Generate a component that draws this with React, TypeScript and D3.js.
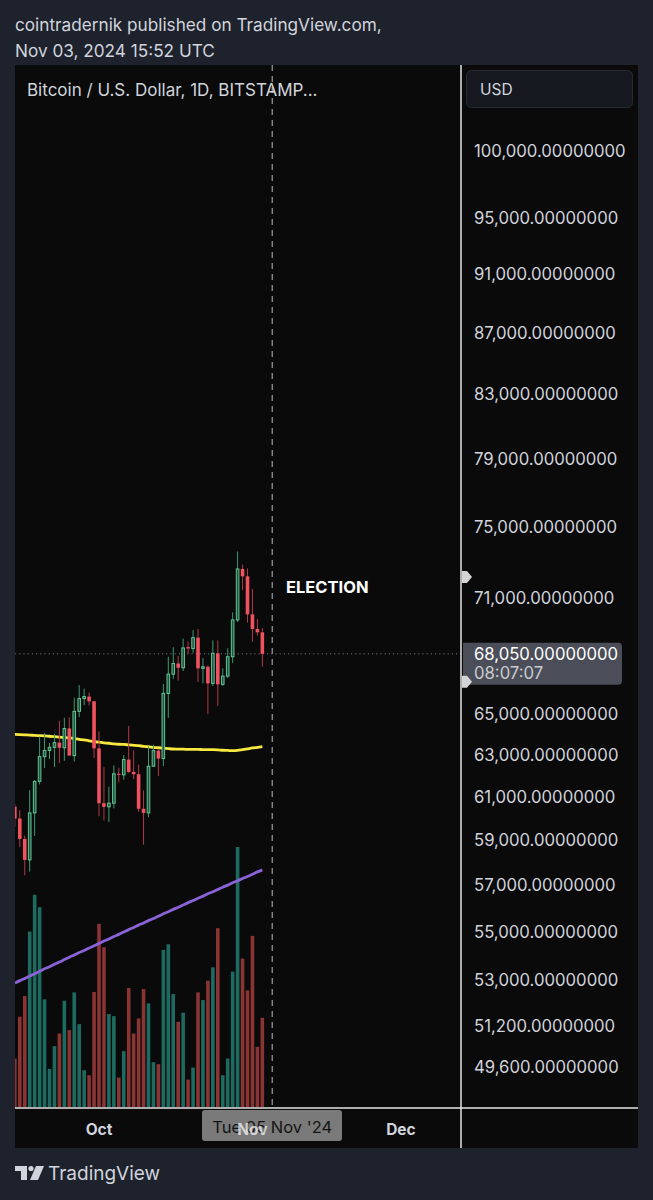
import React from "react";
import * as d3 from "d3";

// ---- data ----
const dates = [
  "2024-09-14","2024-09-15","2024-09-16","2024-09-17","2024-09-18","2024-09-19","2024-09-20","2024-09-21","2024-09-22","2024-09-23",
  "2024-09-24","2024-09-25","2024-09-26","2024-09-27","2024-09-28","2024-09-29","2024-09-30","2024-10-01","2024-10-02","2024-10-03",
  "2024-10-04","2024-10-05","2024-10-06","2024-10-07","2024-10-08","2024-10-09","2024-10-10","2024-10-11","2024-10-12","2024-10-13",
  "2024-10-14","2024-10-15","2024-10-16","2024-10-17","2024-10-18","2024-10-19","2024-10-20","2024-10-21","2024-10-22","2024-10-23",
  "2024-10-24","2024-10-25","2024-10-26","2024-10-27","2024-10-28","2024-10-29","2024-10-30","2024-10-31","2024-11-01","2024-11-02",
  "2024-11-03",
];
const opens = [
  60540,59990,59060,58120,60250,61720,62900,63200,63350,63580,
  63330,64270,62950,65120,65760,65860,65620,63300,60700,60530,
  60700,62080,62030,62760,62170,62060,60440,60250,62440,63190,
  62810,66020,67000,67550,67330,68400,68330,68900,67300,67380,
  66530,68080,66480,66900,67900,69840,72620,72210,70140,69360,
  69180,
];
const highs = [
  60660,60380,59210,61310,61780,63880,64050,63560,64000,64650,
  64800,64820,65800,66440,66260,66070,65640,64130,62400,61470,
  62480,62370,62980,64400,63200,62520,61300,63400,63480,63280,
  66500,67900,68400,67940,68850,68700,69300,69360,67830,67450,
  68760,68750,67300,68340,70250,73600,72870,72650,71520,69900,
  69400,
];
const lows = [
  59600,58700,57440,57600,59200,61580,62350,62780,62400,62600,
  62700,62990,62670,64830,65430,65420,62830,60100,59900,59830,
  60460,61680,61800,62120,61830,60300,58800,60050,62440,61980,
  62450,64800,66750,66670,67160,68050,68100,66600,66530,64980,
  66400,65390,66400,66800,67570,69730,71450,69700,68680,69000,
  67380,
];
const closes = [
  59990,59060,58120,60250,61720,62900,63200,63350,63580,63330,
  64270,62950,65120,65760,65860,65620,63300,60700,60530,60700,
  62080,62030,62760,62170,62060,60440,60250,62440,63190,62810,
  66020,67000,67550,67330,68360,68330,68900,67300,67380,66530,
  68080,66480,66900,67900,69840,72620,72210,70140,69360,69180,
  68050,
];
const volumes = [
  928,1728,2125,3360,4064,3827,2061,730,1165,1408,
  2035,1472,2195,1587,704,608,2202,3507,3059,1779,
  1741,563,1069,2278,1408,1696,2259,1984,858,819,
  3008,3117,2163,1632,1805,525,755,2195,2048,2419,
  2675,3424,608,928,2592,4979,2842,2234,3277,1152,
  1709,
];
const maYellow = [
  63980,63970,63960,63950,63930,63920,63910,63890,63870,63850,
  63830,63810,63780,63740,63710,63670,63630,63600,63570,63550,
  63520,63500,63490,63470,63450,63430,63400,63380,63350,63330,
  63310,63290,63270,63260,63260,63250,63250,63250,63240,63240,
  63240,63230,63210,63200,63190,63200,63240,63280,63320,63350,
  63390,
];
const maPurple = [
  52890,52990,53080,53180,53270,53370,53470,53560,53660,53750,
  53850,53950,54040,54140,54230,54330,54420,54520,54620,54710,
  54810,54900,55000,55100,55190,55290,55380,55480,55570,55670,
  55770,55860,55960,56050,56150,56250,56340,56440,56530,56630,
  56720,56820,56920,57010,57110,57200,57300,57390,57490,57590,
  57680,
];
const priceTicks = [100000,95000,91000,87000,83000,79000,75000,71000,65000,63000,61000,59000,57000,55000,53000,51200,49600];
const monthTicks = [
  { date: "2024-10-01", label: "Oct" },
  { date: "2024-12-01", label: "Dec" },
];
const novTick = { date: "2024-11-01", label: "Nov" };
const lastPrice = 68050;
const countdown = "08:07:07";
const electionDate = "2024-11-05";
const electionLabel = "ELECTION";
const crosshairLabel = "Tue 05 Nov '24";
const alertPrices = [72170];

const W = 653, H = 1200;
const FONT = "Inter, 'Noto Sans', sans-serif";

export default function App() {
  const parse = (s: string) => new Date(s + "T00:00:00Z");
  const x = d3.scaleUtc().domain([parse("2024-09-14"), parse("2024-12-01")]).range([14.85, 400.95]);
  const y = d3.scaleLog().domain([49600, 100000]).range([1067, 151]);
  const yv = d3.scaleLinear().domain([0, d3.max(volumes) as number]).range([1107, 847]);
  const fmt = d3.format(",.8f");

  const plotL = 15, plotR = 461, plotT = 65, plotB = 1108;
  const bw = 3.6;

  const lineY = d3.line<number>().x((_, i) => x(parse(dates[i]))).y((v) => y(v)).curve(d3.curveMonotoneX);

  const electionX = x(parse(electionDate));
  const lp = y(lastPrice);

  return (
    <svg width={W} height={H} style={{ position: "absolute", left: 0, top: 0, display: "block" }} fontFamily={FONT}>
      <rect x={0} y={0} width={W} height={H} fill="#1e222d" />
      <text x={15} y={31} fontSize={17.2} fill="#d1d4dc">cointradernik published on TradingView.com,</text>
      <text x={15} y={57} fontSize={17.2} fill="#d1d4dc">Nov 03, 2024 15:52 UTC</text>

      {/* chart panel */}
      <rect x={15} y={65} width={623} height={1083} fill="#0a0a0a" />
      <defs>
        <clipPath id="plotclip">
          <rect x={plotL} y={plotT} width={plotR - plotL} height={plotB - plotT} />
        </clipPath>
      </defs>

      <g clipPath="url(#plotclip)">
        {/* volume */}
        {volumes.map((v, i) => {
          const up = closes[i] >= opens[i];
          const cx = x(parse(dates[i]));
          return (
            <rect key={"v" + i} x={cx - bw / 2} y={yv(v)} width={bw} height={yv(0) - yv(v)} fill={up ? "#1d6b60" : "#8a3434"} />
          );
        })}
        {/* purple MA */}
        <path d={lineY(maPurple) || ""} fill="none" stroke="#8b63d8" strokeWidth={2.8} />
        {/* yellow MA */}
        <path d={lineY(maYellow) || ""} fill="none" stroke="#f7e940" strokeWidth={2.8} />
        {/* last price dotted line */}
        <line x1={plotL} x2={plotR} y1={lp} y2={lp} stroke="#70737e" strokeWidth={1} strokeDasharray="1.2,3" />
        {/* candles */}
        {dates.map((d, i) => {
          const cx = x(parse(d));
          const up = closes[i] >= opens[i];
          const top = y(Math.max(opens[i], closes[i]));
          const bot = y(Math.min(opens[i], closes[i]));
          return (
            <g key={"c" + i}>
              <line x1={cx} x2={cx} y1={y(highs[i])} y2={y(lows[i])} stroke={up ? "#3d9970" : "#b03a48"} strokeWidth={1} />
              <rect
                x={cx - bw / 2 + (up ? 0.5 : 0)}
                y={top}
                width={bw - (up ? 1 : 0)}
                height={Math.max(1, bot - top)}
                fill={up ? "#23533f" : "#f0525f"}
                stroke={up ? "#62c493" : "none"}
                strokeWidth={up ? 1 : 0}
              />
            </g>
          );
        })}
        {/* election dashed line */}
        <line x1={electionX} x2={electionX} y1={plotT} y2={plotB} stroke="#8f929a" strokeWidth={1.3} strokeDasharray="6,5" />
      </g>

      <text x={286} y={587} fontSize={16.5} fontWeight={700} fill="#ffffff" dominantBaseline="central">{electionLabel}</text>
      <text x={27} y={90} fontSize={17} fill="#d1d4dc" dominantBaseline="central">Bitcoin / U.S. Dollar, 1D, BITSTAMP...</text>

      {/* separators */}
      <line x1={461} x2={461} y1={65} y2={1148} stroke="#e6e6e6" strokeWidth={1.5} />
      <line x1={15} x2={638} y1={1108} y2={1108} stroke="#e6e6e6" strokeWidth={1.5} />

      {/* price axis */}
      <rect x={466.5} y={70.5} width={166} height={37} rx={5} fill="#15181f" stroke="#262a33" />
      <text x={480} y={89} fontSize={15.5} fill="#d1d4dc" dominantBaseline="central">USD</text>
      {priceTicks.map((p) => (
        <text key={p} x={474} y={y(p)} fontSize={16.7} fill="#d1d4dc" dominantBaseline="central">{fmt(p)}</text>
      ))}
      {/* alert markers */}
      {alertPrices.map((p) => {
        const cy = y(p);
        return <path key={"a" + p} d={`M462,${cy - 6} L467,${cy - 6} L472,${cy} L467,${cy + 6} L462,${cy + 6} Z`} fill="#d4d4d6" />;
      })}
      {/* last price label */}
      <path d={`M463,${lp - 11} H618 a4,4 0 0 1 4,4 V${lp + 27} a4,4 0 0 1 -4,4 H463 Z`} fill="#4b4e58" />
      <path d={`M462,${lp + 22} L467,${lp + 22} L472,${lp + 28} L467,${lp + 34} L462,${lp + 34} Z`} fill="#d4d4d6" />
      <text x={474} y={lp} fontSize={16.7} fill="#ffffff" dominantBaseline="central">{fmt(lastPrice)}</text>
      <text x={474} y={lp + 19} fontSize={16.7} fill="#c9cbd1" dominantBaseline="central">{countdown}</text>

      {/* time axis */}
      {monthTicks.map((m) => (
        <text key={m.label} x={x(parse(m.date))} y={1129} fontSize={15.5} fontWeight={700} fill="#d1d4dc" textAnchor="middle" dominantBaseline="central">{m.label}</text>
      ))}
      <rect x={202} y={1110} width={140} height={31} rx={3} fill="#7a7a7a" />
      <text x={electionX} y={1127} fontSize={16.5} fill="#141414" textAnchor="middle" dominantBaseline="central">{crosshairLabel}</text>
      <text x={x(parse(novTick.date))} y={1129} fontSize={15.5} fontWeight={700} fill="#ffffff" opacity={0.7} textAnchor="middle" dominantBaseline="central">{novTick.label}</text>

      {/* footer logo */}
      <g fill="#d1d4dc">
        <path d="M15,1166 H27 V1180 H21 V1171 H15 Z" />
        <circle cx={31} cy={1168.5} r={2.6} />
        <path d="M36,1166 H44 L38,1180 H30 Z" />
      </g>
      <text x={48} y={1173} fontSize={19} fill="#d1d4dc" dominantBaseline="central">TradingView</text>
    </svg>
  );
}
